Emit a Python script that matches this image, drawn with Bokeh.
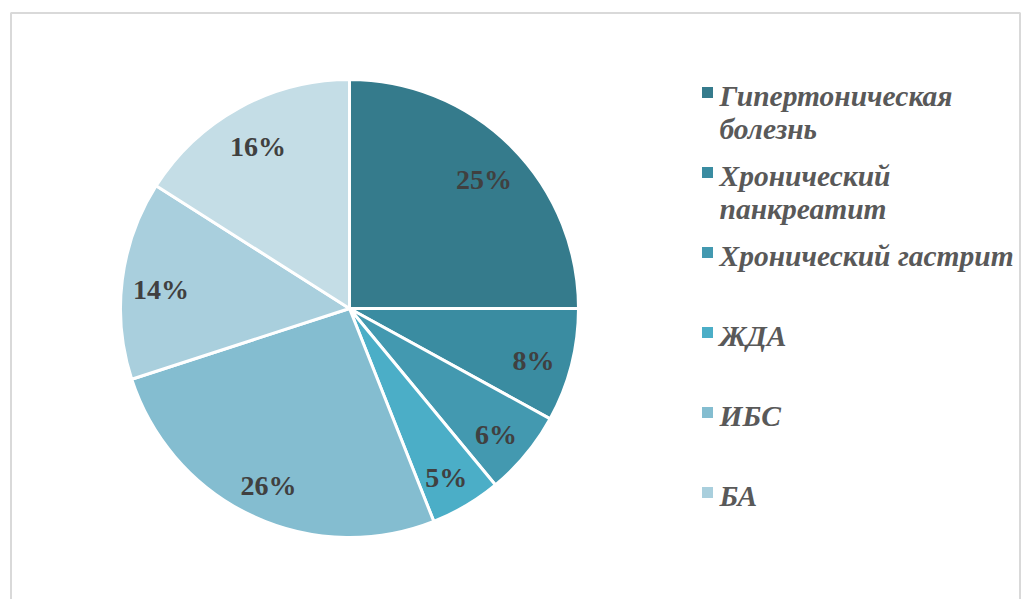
import math
from bokeh.plotting import figure
from bokeh.models import Range1d, ColumnDataSource
from bokeh.core.properties import value
from bokeh.embed import file_html
from bokeh.resources import INLINE

# ---- data ----
shares = [25, 8, 6, 5, 26, 14, 16]
pct_labels = ["25%", "8%", "6%", "5%", "26%", "14%", "16%"]
slice_colors = ["#357b8c", "#3a8ca1", "#4399b0", "#4baec7", "#84bdd0", "#a9cfdd", "#c4dde6"]
legend_labels = ["Гипертоническая\nболезнь", "Хронический\nпанкреатит", "Хронический гастрит",
                 "ЖДА", "ИБС", "БА"]

W, H = 1022, 599
p = figure(width=W, height=H, output_backend="svg", toolbar_location=None,
           x_range=Range1d(0, W), y_range=Range1d(0, H), min_border=0)
p.axis.visible = False
p.grid.visible = False
p.outline_line_color = None
p.background_fill_color = "white"
p.border_fill_color = "white"

def py(page_y):
    return H - page_y

def px(page_x):
    return page_x

# chart border (bottom runs off the page)
p.line(x=[px(10.5), px(10.5), px(1019.5), px(1019.5)],
       y=[-20, py(12.5), py(12.5), -20], line_color="#d9d9d9", line_width=2)

# ---- pie ----
cx, cy, R = px(349), py(308), 229
total = sum(shares)
starts, ends, mids = [], [], []
cum = 0.0
for s in shares:
    a0 = math.pi / 2 - 2 * math.pi * cum / total
    cum += s
    a1 = math.pi / 2 - 2 * math.pi * cum / total
    starts.append(a1)
    ends.append(a0)
    mids.append((a0 + a1) / 2)

src = ColumnDataSource(dict(start=starts, end=ends, color=slice_colors))
p.wedge(x=cx, y=cy, radius=R, start_angle="start", end_angle="end",
        fill_color="color", line_color="white", line_width=3, source=src)

lr = 0.83 * R
lab = ColumnDataSource(dict(x=[cx + lr * math.cos(m) for m in mids],
                            y=[cy + lr * math.sin(m) - 5 for m in mids],
                            t=pct_labels))
p.text(x="x", y="y", text="t", source=lab, text_align="center", text_baseline="middle",
       text_font=value("Liberation Serif"), text_font_style="bold",
       text_font_size="28px", text_color="#404040")

# ---- legend ----
lx, ly0, step = px(707), py(92), 80
for i, lbl in enumerate(legend_labels):
    yc = ly0 - i * step
    p.rect(x=lx, y=yc, width=11, height=11, fill_color=slice_colors[i], line_color=None)
    for j, line in enumerate(lbl.split("\n")):
        p.text(x=[px(719)], y=[yc - 3 - j * 33], text=[line], text_align="left",
               text_baseline="middle", text_font=value("Liberation Serif"),
               text_font_style="bold italic", text_font_size="29.5px", text_color="#595959")

open("out.html", "w").write(file_html(p, INLINE))
